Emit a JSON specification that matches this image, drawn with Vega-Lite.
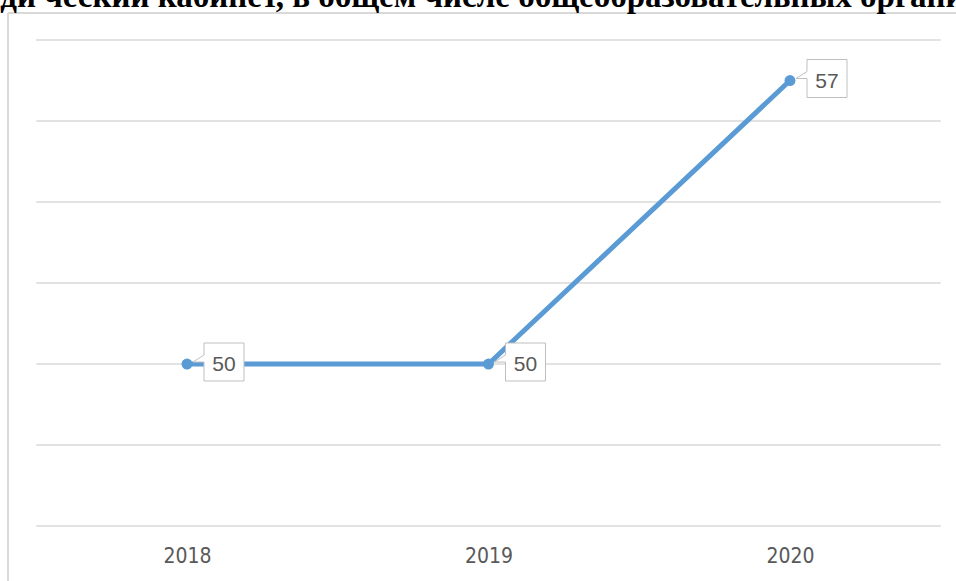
{
  "$schema": "https://vega.github.io/schema/vega-lite/v6.json",
  "width": 948,
  "height": 568,
  "autosize": {"type": "none"},
  "padding": {"left": 8, "top": 13, "right": 0, "bottom": 0},
  "background": "white",
  "config": {"view": {"stroke": null}},
  "title": {
    "text": "еди ческий кабинет, в общем  числе общеобразовательных организаций",
    "anchor": "start",
    "frame": "group",
    "orient": "top",
    "offset": 0,
    "baseline": "top",
    "dx": -22,
    "dy": 2,
    "font": "Liberation Serif",
    "fontSize": 33,
    "fontWeight": "bold",
    "color": "black"
  },
  "datasets": {
    "points": [
      {"year": 2018, "value": 50},
      {"year": 2019, "value": 50},
      {"year": 2020, "value": 57}
    ],
    "grid": [
      {"v": 46}, {"v": 48}, {"v": 50}, {"v": 52}, {"v": 54}, {"v": 56}, {"v": 58}
    ]
  },
  "layer": [
    {
      "data": {"name": "grid"},
      "mark": {"type": "rule", "color": "#d9d9d9", "strokeWidth": 1.5},
      "encoding": {
        "y": {"field": "v", "type": "quantitative", "scale": {"domain": [44.642, 58.667], "nice": false, "zero": false}, "axis": null},
        "x": {
          "datum": 2017.5, "type": "quantitative",
          "scale": {"domain": [2017.4063, 2020.5506], "nice": false, "zero": false},
          "axis": {
            "orient": "bottom", "offset": -55, "values": [2018, 2019, 2020], "format": "d",
            "domain": false, "ticks": false, "grid": false, "title": null,
            "labelFont": "Liberation Sans Narrow, DejaVu Sans Condensed, sans-serif",
            "labelFontSize": 21, "labelColor": "#595959", "labelPadding": 19
          }
        },
        "x2": {"datum": 2020.5}
      }
    },
    {
      "data": {"name": "points"},
      "mark": {"type": "rule", "color": "#d9d9d9", "strokeWidth": 1.5},
      "encoding": {
        "x": {
          "datum": 2017.4063, "type": "quantitative",
          "scale": {"domain": [2017.4063, 2020.5506], "nice": false, "zero": false},
          "axis": {
            "orient": "bottom", "offset": -55, "values": [2018, 2019, 2020], "format": "d",
            "domain": false, "ticks": false, "grid": false, "title": null,
            "labelFont": "Liberation Sans Narrow, DejaVu Sans Condensed, sans-serif",
            "labelFontSize": 21, "labelColor": "#595959", "labelPadding": 19
          }
        }
      }
    },
    {
      "data": {"name": "points"},
      "mark": {"type": "rule", "color": "#d9d9d9", "strokeWidth": 1.5},
      "encoding": {
        "y": {"datum": 58.667, "type": "quantitative", "scale": {"domain": [44.642, 58.667], "nice": false, "zero": false}, "axis": null}
      }
    },
    {
      "data": {"name": "points"},
      "mark": {"type": "line", "color": "#5b9bd5", "strokeWidth": 5},
      "encoding": {
        "x": {
          "field": "year", "type": "quantitative",
          "scale": {"domain": [2017.4063, 2020.5506], "nice": false, "zero": false},
          "axis": {
            "orient": "bottom", "offset": -55, "values": [2018, 2019, 2020], "format": "d",
            "domain": false, "ticks": false, "grid": false, "title": null,
            "labelFont": "Liberation Sans Narrow, DejaVu Sans Condensed, sans-serif",
            "labelFontSize": 21, "labelColor": "#595959", "labelPadding": 19
          }
        },
        "y": {"field": "value", "type": "quantitative", "scale": {"domain": [44.642, 58.667], "nice": false, "zero": false}, "axis": null}
      }
    },
    {
      "data": {"name": "points"},
      "mark": {
        "type": "point",
        "shape": "M17,-21 H57 V17 H17 V-2 L6,-2 L17,-9 Z",
        "size": 4,
        "filled": true,
        "fill": "white",
        "stroke": "#bfbfbf",
        "strokeWidth": 1,
        "opacity": 1
      },
      "encoding": {
        "x": {"field": "year", "type": "quantitative"},
        "y": {"field": "value", "type": "quantitative"}
      }
    },
    {
      "data": {"name": "points"},
      "mark": {"type": "point", "filled": true, "color": "#5b9bd5", "size": 120, "opacity": 1},
      "encoding": {
        "x": {"field": "year", "type": "quantitative"},
        "y": {"field": "value", "type": "quantitative"}
      }
    },
    {
      "data": {"name": "points"},
      "mark": {
        "type": "text", "dx": 37, "dy": 1, "align": "center", "baseline": "middle",
        "font": "Liberation Sans", "fontSize": 21, "color": "#595959"
      },
      "encoding": {
        "x": {"field": "year", "type": "quantitative"},
        "y": {"field": "value", "type": "quantitative"},
        "text": {"field": "value", "type": "quantitative"}
      }
    }
  ]
}
